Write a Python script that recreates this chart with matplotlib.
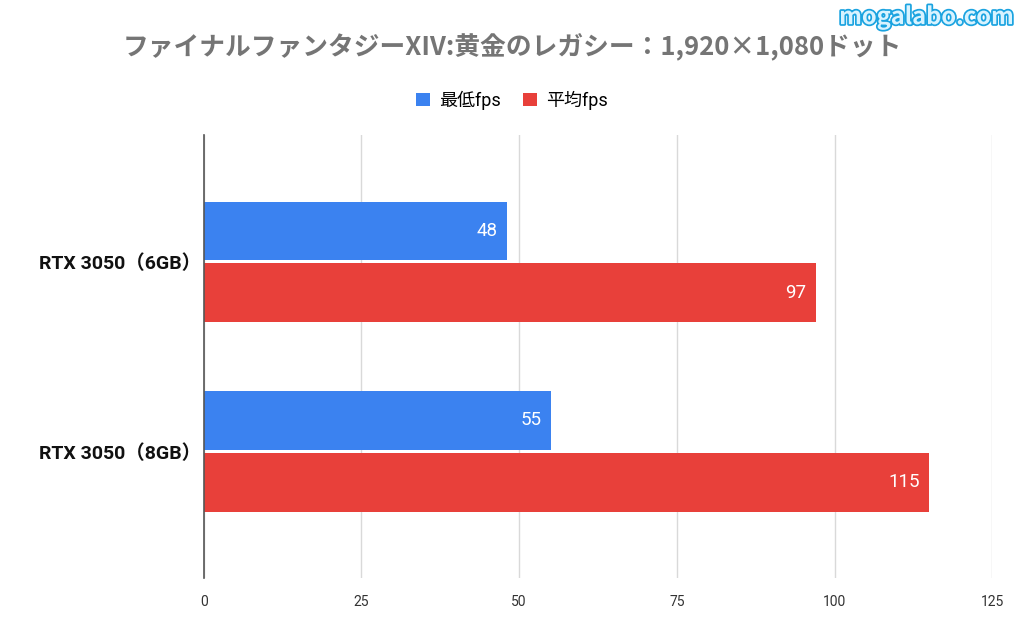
import matplotlib
matplotlib.use("Agg")
import matplotlib.pyplot as plt
import matplotlib.patheffects as pe
import numpy as np

plt.rcParams['font.family'] = ['Noto Sans CJK JP', 'DejaVu Sans']
latin = ['Roboto', 'Noto Sans CJK JP', 'DejaVu Sans']

categories = ["RTX 3050（6GB）", "RTX 3050（8GB）"]
series_names = ["最低fps", "平均fps"]
min_fps = [48, 55]
avg_fps = [97, 115]
colors = ["#3b82f0", "#e8403a"]
x_ticks = [0, 25, 50, 75, 100, 125]

fig = plt.figure(figsize=(10.24, 6.34), dpi=100)
ax = fig.add_axes([0.199, 0.088, 0.770, 0.699])

y = np.arange(len(categories))
h = 0.31
gap = 0.008
bars1 = ax.barh(y - h / 2 - gap, min_fps, height=h, color=colors[0], label=series_names[0], zorder=3)
bars2 = ax.barh(y + h / 2 + gap, avg_fps, height=h, color=colors[1], label=series_names[1], zorder=3)

for bars in (bars1, bars2):
    for b in bars:
        ax.text(b.get_width() - 1.5, b.get_y() + b.get_height() / 2, str(int(b.get_width())),
                ha="right", va="center", color="white", fontsize=13.5, family=latin, zorder=4)

ax.set_ylim(1.67, -0.67)
ax.set_xlim(0, 125)
ax.set_xticks(x_ticks)
ax.set_xticklabels([str(t) for t in x_ticks], fontsize=10, color="#333333", family=latin)
ax.set_yticks(y)
ax.set_yticklabels(categories, fontsize=14, color="#111111", fontweight="bold", family=latin)
ax.tick_params(axis="y", length=0, pad=2)
ax.tick_params(axis="x", length=0, pad=12)
ax.grid(axis="x", color="#d9d9d9", linewidth=1, zorder=0)
for s in ["top", "right", "bottom"]:
    ax.spines[s].set_visible(False)
ax.spines["left"].set_color("#555555")
ax.spines["left"].set_linewidth(1.2)
ax.spines["left"].set_zorder(5)

fig.text(0.5, 0.925, "ファイナルファンタジーXIV:黄金のレガシー：1,920×1,080ドット",
         ha="center", va="center", fontsize=18.5, color="#757575", fontweight="bold")

leg = fig.legend(handles=[bars1, bars2], labels=series_names, loc="center",
                 bbox_to_anchor=(0.5, 0.842), ncol=2, frameon=False,
                 prop={'family': latin, 'size': 13},
                 handlelength=0.8, handleheight=0.8, handletextpad=0.5, columnspacing=1.2)

fig.text(0.99, 0.973, "mogalabo.com", ha="right", va="center", fontsize=17,
         fontweight="bold", color="#d8f3ff",
         path_effects=[pe.withStroke(linewidth=2.5, foreground="#1aa3e0")])

fig.savefig("out.png", dpi=100, facecolor="white")
